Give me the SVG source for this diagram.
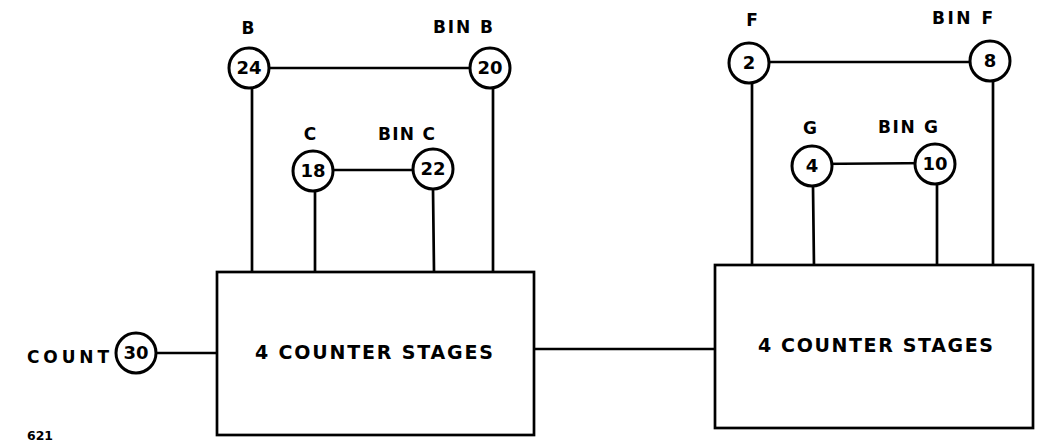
<svg xmlns="http://www.w3.org/2000/svg" width="1038" height="446" viewBox="0 0 1038 446">
<style>
.ln{stroke:#000;stroke-width:2.7;fill:none;stroke-linecap:square}
.nd{stroke:#000;stroke-width:3;fill:#fff}
.bx{stroke:#000;stroke-width:2.7;fill:#fff}
.lbl{font-family:"DejaVu Sans","Liberation Sans",sans-serif;font-weight:bold;font-size:17px;fill:#000}
.num{font-family:"DejaVu Sans","Liberation Sans",sans-serif;font-weight:bold;font-size:18px;fill:#000;text-anchor:middle}
.big{font-family:"DejaVu Sans","Liberation Sans",sans-serif;font-weight:bold;font-size:19px;fill:#000}
</style>
<rect width="1038" height="446" fill="#fff"/>
<g id="connectors">
<line class="ln" x1="249" y1="68" x2="490" y2="68"/>
<line class="ln" x1="252" y1="88" x2="252" y2="272"/>
<line class="ln" x1="493" y1="88" x2="493" y2="271"/>
<line class="ln" x1="313" y1="170" x2="433" y2="170"/>
<line class="ln" x1="315" y1="191" x2="315" y2="272"/>
<line class="ln" x1="433" y1="189" x2="434" y2="271"/>
<line class="ln" x1="749" y1="62" x2="990" y2="62"/>
<line class="ln" x1="752" y1="84" x2="752" y2="267"/>
<line class="ln" x1="993" y1="82" x2="993" y2="264"/>
<line class="ln" x1="812" y1="164" x2="935" y2="163"/>
<line class="ln" x1="813" y1="186" x2="814" y2="267"/>
<line class="ln" x1="937" y1="184" x2="937" y2="265"/>
<line class="ln" x1="156" y1="353" x2="217" y2="353"/>
<line class="ln" x1="534" y1="349" x2="715" y2="349"/>
</g>
<g id="box1"><rect class="bx" x="217" y="272" width="317" height="163"/><text class="big" x="255" y="359" textLength="238" lengthAdjust="spacing">4 COUNTER STAGES</text></g>
<g id="box2"><rect class="bx" x="715" y="265" width="318" height="163"/><text class="big" x="758" y="352" textLength="235" lengthAdjust="spacing">4 COUNTER STAGES</text></g>
<g id="n24"><circle class="nd" cx="249" cy="68" r="20"/><text class="num" x="249" y="74">24</text><text class="lbl" x="248" y="34" text-anchor="middle">B</text></g>
<g id="n20"><circle class="nd" cx="490" cy="68" r="20"/><text class="num" x="490" y="74">20</text><text class="lbl" x="433" y="33" textLength="60" lengthAdjust="spacing">BIN B</text></g>
<g id="n18"><circle class="nd" cx="313" cy="171" r="20"/><text class="num" x="313" y="177">18</text><text class="lbl" x="310" y="140" text-anchor="middle">C</text></g>
<g id="n22"><circle class="nd" cx="433" cy="169" r="20"/><text class="num" x="433" y="175">22</text><text class="lbl" x="378" y="140" textLength="57" lengthAdjust="spacing">BIN C</text></g>
<g id="n2"><circle class="nd" cx="749" cy="63" r="20"/><text class="num" x="749" y="69">2</text><text class="lbl" x="752" y="26" text-anchor="middle">F</text></g>
<g id="n8"><circle class="nd" cx="990" cy="61" r="20"/><text class="num" x="990" y="67">8</text><text class="lbl" x="932" y="24" textLength="61" lengthAdjust="spacing">BIN F</text></g>
<g id="n4"><circle class="nd" cx="812" cy="166" r="20"/><text class="num" x="812" y="172">4</text><text class="lbl" x="810" y="134" text-anchor="middle">G</text></g>
<g id="n10"><circle class="nd" cx="935" cy="164" r="20"/><text class="num" x="935" y="170">10</text><text class="lbl" x="878" y="133" textLength="60" lengthAdjust="spacing">BIN G</text></g>
<g id="n30"><circle class="nd" cx="136" cy="353" r="20"/><text class="num" x="136" y="359">30</text><text class="lbl" x="27" y="363" textLength="82" lengthAdjust="spacing">COUNT</text></g>
<text class="lbl" x="27" y="440" textLength="26" lengthAdjust="spacingAndGlyphs" style="font-size:13px">621</text>
</svg>
